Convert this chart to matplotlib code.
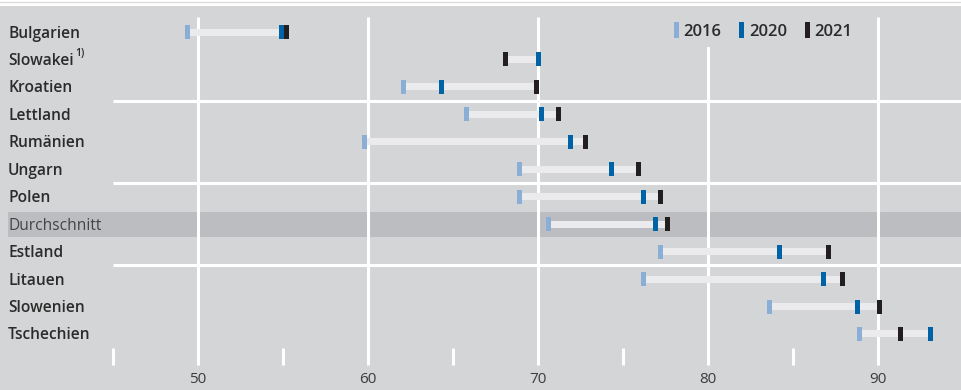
"""
Chart: range of values 2016 / 2020 / 2021 per country
"""

import matplotlib
matplotlib.use('Agg')
import matplotlib.pyplot as plt
from matplotlib.patches import Patch
from matplotlib.lines import Line2D
import numpy as np

# data
countries = ['Bulgarien', 'Slowakei', 'Kroatien', 'Lettland', 'Rumänien',
             'Ungarn', 'Polen', 'Durchschnitt', 'Estland', 'Litauen',
             'Slowenien', 'Tschechien']
v2016 = [49.4, np.nan, 62.1, 65.8, 59.8, 68.9, 68.9, 70.6, 77.2, 76.2, 83.6, 88.9]
v2020 = [54.9, 70.0, 64.3, 70.2, 71.9, 74.3, 76.2, 76.9, 84.2, 86.8, 88.8, 93.1]
v2021 = [55.2, 68.1, 69.9, 71.2, 72.8, 75.9, 77.2, 77.6, 87.1, 87.9, 90.1, 91.3]
years = ['2016', '2020', '2021']
major_ticks = [50, 60, 70, 80, 90]
minor_ticks = [45, 55, 65, 75, 85]
group_breaks = [2.5, 5.5, 8.5]
average_label = 'Durchschnitt'
footnote_label = 'Slowakei'

# colours
bg = '#d4d5d7'
band = '#bcbdc1'
track = '#ebebed'
colors = ['#8aaed6', '#0063a6', '#231f20']
text_col = '#2b2b2b'

plt.rcParams['font.family'] = ['Open Sans', 'DejaVu Sans']

fig = plt.figure(figsize=(9.62, 3.9), dpi=100, facecolor='white')
ax = fig.add_axes([0, 0, 1, 384 / 390])
ax.set_facecolor(bg)
for s in ax.spines.values():
    s.set_visible(False)
ax.set_xticks([])
ax.set_yticks([])

# pixel mapping: value 50 -> 198px, 17px per unit; rows 27.45px apart
px_unit = 17.0
row_px = 27.45
ax.set_xlim(50 - 198 / px_unit, 50 + (962 - 198) / px_unit)
ax.set_ylim((390 - 32) / row_px, (6 - 32) / row_px)

fig.add_artist(Line2D([0, 1], [1 - 1.5 / 390] * 2, color='#dcdcdc', lw=1.0))

y = np.arange(len(countries))
values = np.array([v2016, v2020, v2021], dtype=float)

# average band
i_avg = countries.index(average_label)
ax.axhspan(i_avg - 12.5 / row_px, i_avg + 12.5 / row_px, xmin=8 / 962, xmax=1,
           color=band, lw=0, zorder=0.5)

# grid lines
ax.vlines(major_ticks, (17 - 32) / row_px, (365 - 32) / row_px,
          color='white', lw=2.2, zorder=1)
ax.vlines(minor_ticks, (348 - 32) / row_px, (365 - 32) / row_px,
          color='white', lw=2.2, zorder=1)
x_left = min(minor_ticks)
ax.hlines(group_breaks, x_left, ax.get_xlim()[1], color='white', lw=2.2, zorder=1)

for t in major_ticks:
    ax.text(t, (383 - 32) / row_px, str(t), ha='center', va='baseline',
            fontsize=11, color='#3c3c3c', zorder=3)

# tracks
lo = np.nanmin(values, axis=0)
hi = np.nanmax(values, axis=0)
ax.barh(y, hi - lo, left=lo, height=7 / row_px, color=track, lw=0, zorder=2)

# markers
mw = 5 / px_unit
mh = 14 / row_px
for vals, c in zip(values, colors):
    ax.barh(y, mw, left=vals - mw / 2, height=mh, color=c, lw=0, zorder=3)

# row labels
for i, name in enumerate(countries):
    if name == average_label:
        ax.text(8 / 962, i + 5.5 / row_px, name, transform=ax.get_yaxis_transform(),
                ha='left', va='baseline', fontsize=11.2, color='#444444')
        continue
    t = ax.text(8 / 962, i + 5.5 / row_px, name, transform=ax.get_yaxis_transform(),
                ha='left', va='baseline', fontsize=11.2, fontweight='semibold',
                color=text_col)
    if name == footnote_label:
        ax.annotate('1)', xy=(1, 0.62), xycoords=t, xytext=(1.5, 0),
                    textcoords='offset points', fontsize=7.5,
                    fontweight='semibold', color=text_col, va='bottom')

# legend
handles = [Patch(facecolor=c, edgecolor='none') for c in colors]
leg = fig.legend(handles, years, loc='center left', ncol=3,
                 bbox_to_anchor=(667 / 962, (390 - 31) / 390),
                 bbox_transform=fig.transFigure, borderaxespad=0,
                 frameon=True, facecolor=bg, edgecolor='none', framealpha=1,
                 fancybox=False, handlelength=0.3, handleheight=1.1,
                 handletextpad=0.3, columnspacing=1.05,
                 prop={'size': 12, 'weight': 'semibold'})
for txt in leg.get_texts():
    txt.set_color(text_col)
leg.set_zorder(5)

fig.savefig('out.png', dpi=100, facecolor=fig.get_facecolor())
